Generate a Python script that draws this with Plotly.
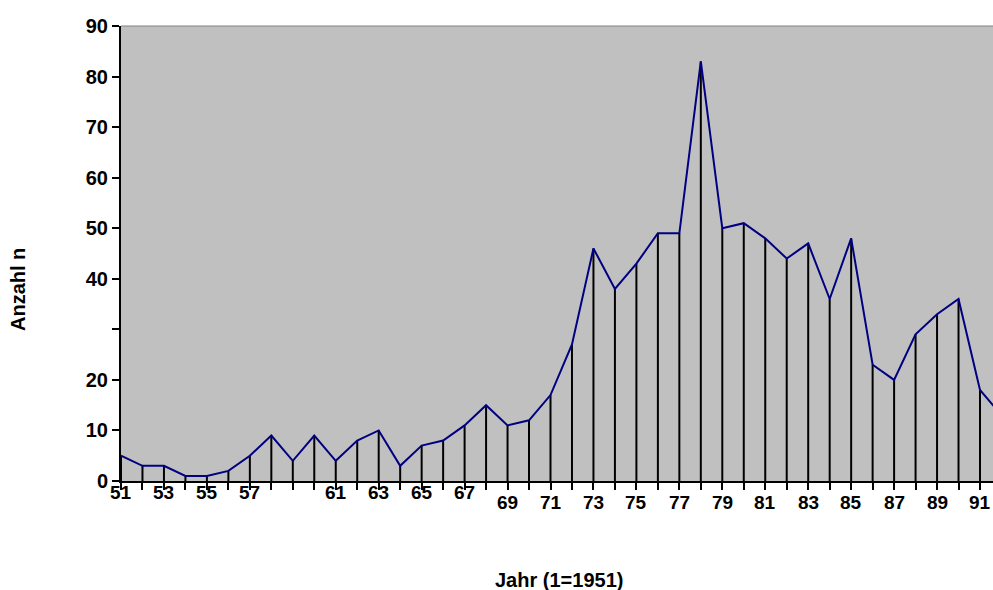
import plotly.graph_objects as go

# ---- data ----
years = list(range(51, 93))
counts = [5, 3, 3, 1, 1, 2, 5, 9, 4, 9,
          4, 8, 10, 3, 7, 8, 11, 15, 11, 12,
          17, 27, 46, 38, 43, 49, 49, 83, 50, 51,
          48, 44, 47, 36, 48, 23, 20, 29, 33, 36,
          18, 13]
x_labels_row1 = [51, 53, 55, 57, 61, 63, 65, 67]
x_labels_row2 = [69, 71, 73, 75, 77, 79, 81, 83, 85, 87, 89, 91]
y_ticks = [0, 10, 20, 30, 40, 50, 60, 70, 80, 90]
y_ticktext = ["0", "10", "20", "", "40", "50", "60", "70", "80", "90"]
x_title = "Jahr (1=1951)"
y_title = "Anzahl n"

FONT = "Liberation Sans, Arial, sans-serif"

# drop lines built from the data
drop_x, drop_y = [], []
for yr, c in zip(years, counts):
    drop_x += [yr, yr, None]
    drop_y += [0, c, None]

fig = go.Figure()
fig.add_trace(go.Scatter(x=drop_x, y=drop_y, mode="lines",
                         line=dict(color="black", width=2),
                         hoverinfo="skip", showlegend=False))
fig.add_trace(go.Scatter(x=years, y=counts, mode="lines",
                         line=dict(color="#000080", width=2),
                         showlegend=False))

annotations = []
for v in x_labels_row1:
    annotations.append(dict(x=v, y=0, xref="x", yref="y", text=f"<b>{v}</b>",
                            showarrow=False, yshift=-11, yanchor="middle",
                            xanchor="center",
                            font=dict(family=FONT, size=19, color="black")))
for v in x_labels_row2:
    annotations.append(dict(x=v, y=0, xref="x", yref="y", text=f"<b>{v}</b>",
                            showarrow=False, yshift=-21, yanchor="middle",
                            xanchor="center",
                            font=dict(family=FONT, size=19, color="black")))
annotations.append(dict(x=0.502, y=-0.2176, xref="paper", yref="paper",
                        text=f"<b>{x_title}</b>", showarrow=False,
                        xanchor="center", yanchor="middle",
                        font=dict(family=FONT, size=20, color="black")))
annotations.append(dict(x=-0.118, y=0.42, xref="paper", yref="paper",
                        text=f"<b>{y_title}</b>", showarrow=False, textangle=-90,
                        xanchor="center", yanchor="middle",
                        font=dict(family=FONT, size=20, color="black")))

fig.update_layout(
    width=993, height=590,
    margin=dict(l=121, r=0, t=26, b=109),
    paper_bgcolor="white",
    plot_bgcolor="#C0C0C0",
    font=dict(family=FONT, color="black"),
    annotations=annotations,
    shapes=[dict(type="line", xref="paper", yref="paper", x0=0, x1=1, y0=1, y1=1,
                 line=dict(color="#808080", width=1))],
    xaxis=dict(range=[51, 51 + 872 / 21.475], showgrid=False, zeroline=False,
               showline=True, linecolor="black", linewidth=2,
               ticks="outside", ticklen=7, tickwidth=2, tickcolor="black",
               tickvals=years, showticklabels=False),
    yaxis=dict(range=[0, 90], showgrid=False, zeroline=False,
               showline=True, linecolor="black", linewidth=2,
               ticks="outside", ticklen=7, tickwidth=2, tickcolor="black",
               tickvals=y_ticks, ticktext=[f"<b>{t}</b>" if t else "" for t in y_ticktext],
               tickfont=dict(family=FONT, size=20, color="black")),
)

fig.write_html("out.html", config={"displayModeBar": False},
               post_script="document.body.style.margin='0';document.body.style.overflow='hidden';")
